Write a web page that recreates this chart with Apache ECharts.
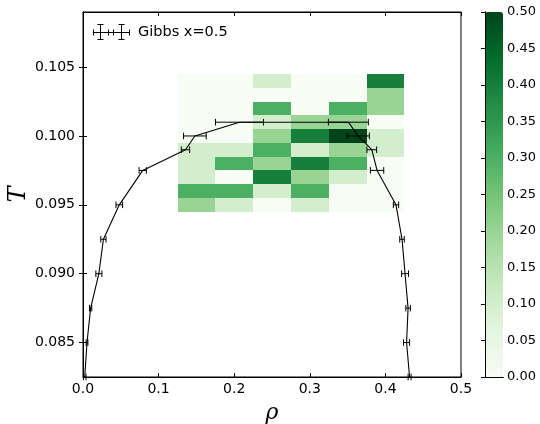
<!DOCTYPE html>
<html><head><meta charset="utf-8">
<script src="https://cdn.jsdelivr.net/npm/echarts@6/dist/echarts.min.js"></script>
<style>html,body{margin:0;padding:0;background:#fff}#c{width:540px;height:424px}</style>
</head><body><div id="c"></div>
<script>
// ---- data ----
const rhoCenters = [0.15, 0.20, 0.25, 0.30, 0.35, 0.40];
const tCenters = [0.095, 0.096, 0.097, 0.098, 0.099, 0.100, 0.101, 0.102, 0.103, 0.104];
// rows follow tCenters (bottom -> top), columns follow rhoCenters
const hist = [
  [0.2, 0.1, 0.0, 0.1, 0.0, 0.0],
  [0.3, 0.3, 0.1, 0.3, 0.0, 0.0],
  [0.1, 0.0, 0.4, 0.2, 0.1, 0.0],
  [0.1, 0.3, 0.2, 0.4, 0.3, 0.0],
  [0.1, 0.1, 0.3, 0.1, 0.2, 0.1],
  [0.0, 0.0, 0.2, 0.4, 0.5, 0.1],
  [0.0, 0.0, 0.1, 0.2, 0.2, 0.0],
  [0.0, 0.0, 0.3, 0.0, 0.3, 0.2],
  [0.0, 0.0, 0.0, 0.0, 0.0, 0.2],
  [0.0, 0.0, 0.1, 0.0, 0.0, 0.4]
];
const RHO_BIN = 0.05, T_BIN = 0.001;
// Gibbs coexistence: left branch (bottom -> top), then right branch (top -> bottom)
const gibbsRho = [0.0023, 0.0053, 0.0101, 0.021, 0.027, 0.048, 0.079, 0.1356, 0.148, 0.207,
                  0.351, 0.364, 0.382, 0.389, 0.414, 0.422, 0.426, 0.430, 0.428, 0.432];
const gibbsT   = [0.0825, 0.085, 0.0875, 0.090, 0.0925, 0.095, 0.0975, 0.099, 0.100, 0.101,
                  0.101, 0.100, 0.099, 0.0975, 0.095, 0.0925, 0.090, 0.0875, 0.085, 0.0825];
const gibbsErr = [0.0017, 0.0012, 0.0015, 0.004, 0.0035, 0.0044, 0.0048, 0.0055, 0.015, 0.0317,
                  0.0264, 0.0148, 0.0064, 0.0088, 0.0035, 0.003, 0.0046, 0.003, 0.004, 0.002];
const xTicks = [0.0, 0.1, 0.2, 0.3, 0.4, 0.5];
const yTicks = [0.085, 0.090, 0.095, 0.100, 0.105];
const cbarTicks = [0, 0.05, 0.10, 0.15, 0.20, 0.25, 0.30, 0.35, 0.40, 0.45, 0.50];
const greens = ['#f7fcf5','#e5f5e0','#c7e9c0','#a1d99b','#74c476','#41ab5d','#238b45','#006d2c','#00441b'];

const heatData = [];
tCenters.forEach((t, i) => rhoCenters.forEach((r, j) => heatData.push([r, t, hist[i][j]])));
const gibbsData = gibbsRho.map((r, i) => [r, gibbsT[i], gibbsErr[i]]);

const FONT = 'DejaVu Sans';
const tickStyle = {show: true, inside: true, length: 4, lineStyle: {color: '#000', width: 1}};
const lineStyle = {show: true, lineStyle: {color: '#000', width: 1}};
const LS = {stroke: '#000', lineWidth: 1};

const chart = echarts.init(document.getElementById('c'), null, {renderer: 'canvas'});
chart.setOption({
  animation: false,
  backgroundColor: '#fff',
  grid: [
    {left: 83, top: 12, width: 378, height: 365, show: true, borderColor: '#000', borderWidth: 1,
     backgroundColor: 'transparent', containLabel: false, outerBoundsMode: 'none'},
    {left: 485, top: 12, width: 18, height: 365, containLabel: false, outerBoundsMode: 'none'}
  ],
  visualMap: {
    type: 'continuous', min: 0, max: 0.5, dimension: 2, seriesIndex: 0,
    inRange: {color: greens}, calculable: false, show: true,
    itemWidth: 18, itemHeight: 365, left: 485, top: 12, padding: 0, text: null,
    showLabel: false, z: 1, hoverLink: false
  },
  xAxis: [
    {gridIndex: 0, type: 'value', min: 0, max: 0.5, interval: 0.1, position: 'bottom',
     axisLine: lineStyle, axisTick: tickStyle, splitLine: {show: false},
     axisLabel: {color: '#000', fontSize: 14, fontFamily: FONT, margin: 5,
                 customValues: xTicks, formatter: v => v.toFixed(1)},
     name: 'ρ', nameLocation: 'middle', nameGap: 25, nameMoveOverlap: false,
     nameTextStyle: {fontFamily: 'DejaVu Serif', fontStyle: 'italic', fontSize: 22, color: '#000'}},
    {gridIndex: 0, type: 'value', min: 0, max: 0.5, interval: 0.1, position: 'top',
     axisLine: lineStyle, axisTick: tickStyle, splitLine: {show: false}, axisLabel: {show: false}},
    {gridIndex: 1, type: 'value', min: 0, max: 1, position: 'bottom', z: 10,
     axisLine: lineStyle, axisTick: {show: false}, splitLine: {show: false}, axisLabel: {show: false}},
    {gridIndex: 1, type: 'value', min: 0, max: 1, position: 'top', z: 10,
     axisLine: lineStyle, axisTick: {show: false}, splitLine: {show: false}, axisLabel: {show: false}}
  ],
  yAxis: [
    {gridIndex: 0, type: 'value', min: 0.0825, max: 0.109, position: 'left',
     axisLine: lineStyle, axisTick: Object.assign({customValues: yTicks}, tickStyle), splitLine: {show: false},
     axisLabel: {color: '#000', fontSize: 14, fontFamily: FONT, margin: 8,
                 customValues: yTicks, formatter: v => v.toFixed(3)},
     name: 'T', nameLocation: 'middle', nameGap: 52, nameMoveOverlap: false,
     nameTextStyle: {fontFamily: 'DejaVu Serif', fontStyle: 'italic', fontSize: 24, color: '#000'}},
    {gridIndex: 0, type: 'value', min: 0.0825, max: 0.109, position: 'right',
     axisLine: lineStyle, axisTick: Object.assign({customValues: yTicks}, tickStyle), splitLine: {show: false},
     axisLabel: {show: false, customValues: yTicks}},
    {gridIndex: 1, type: 'value', min: 0, max: 0.5, interval: 0.05, position: 'right', z: 10,
     axisLine: lineStyle, axisTick: tickStyle, splitLine: {show: false},
     axisLabel: {color: '#000', fontSize: 13, fontFamily: FONT, margin: 4,
                 customValues: cbarTicks, formatter: v => v.toFixed(2)}},
    {gridIndex: 1, type: 'value', min: 0, max: 0.5, position: 'left', z: 10,
     axisLine: lineStyle, axisTick: {show: false}, splitLine: {show: false}, axisLabel: {show: false}}
  ],
  series: [
    {
      type: 'custom', name: 'hist', xAxisIndex: 0, yAxisIndex: 0, data: heatData,
      encode: {x: 0, y: 1}, z: 1,
      renderItem: (params, api) => {
        const x = api.value(0), y = api.value(1);
        const p1 = api.coord([x - RHO_BIN / 2, y + T_BIN / 2]);
        const p2 = api.coord([x + RHO_BIN / 2, y - T_BIN / 2]);
        const x1 = Math.round(p1[0]), y1 = Math.round(p1[1]);
        const x2 = Math.round(p2[0]), y2 = Math.round(p2[1]);
        return {type: 'rect', shape: {x: x1, y: y1, width: x2 - x1, height: y2 - y1},
                style: {fill: api.visual('color')}};
      }
    },
    {
      type: 'line', name: 'Gibbs x=0.5', xAxisIndex: 0, yAxisIndex: 0,
      data: gibbsData.map(d => [d[0], d[1]]), showSymbol: false, symbol: 'none', z: 3,
      lineStyle: {color: '#000', width: 1.1}
    },
    {
      type: 'custom', name: 'Gibbs err', xAxisIndex: 0, yAxisIndex: 0, data: gibbsData,
      encode: {x: 0, y: 1}, z: 4,
      renderItem: (params, api) => {
        const x = api.value(0), y = api.value(1), e = api.value(2);
        const a = api.coord([x - e, y]), b = api.coord([x + e, y]);
        const cap = 3.3;
        return {type: 'group', children: [
          {type: 'line', shape: {x1: a[0], y1: a[1], x2: b[0], y2: b[1]}, style: LS},
          {type: 'line', shape: {x1: a[0], y1: a[1] - cap, x2: a[0], y2: a[1] + cap}, style: LS},
          {type: 'line', shape: {x1: b[0], y1: b[1] - cap, x2: b[0], y2: b[1] + cap}, style: LS}
        ]};
      }
    }
  ],
  graphic: [
    {type: 'line', z: 20, shape: {x1: 93, y1: 32.5, x2: 130, y2: 32.5}, style: LS},
    {type: 'line', z: 20, shape: {x1: 93.5, y1: 29.5, x2: 93.5, y2: 35.5}, style: LS},
    {type: 'line', z: 20, shape: {x1: 108.5, y1: 29.5, x2: 108.5, y2: 35.5}, style: LS},
    {type: 'line', z: 20, shape: {x1: 113.5, y1: 29.5, x2: 113.5, y2: 35.5}, style: LS},
    {type: 'line', z: 20, shape: {x1: 129.5, y1: 29.5, x2: 129.5, y2: 35.5}, style: LS},
    {type: 'line', z: 20, shape: {x1: 100.5, y1: 24.5, x2: 100.5, y2: 39.5}, style: LS},
    {type: 'line', z: 20, shape: {x1: 97.5, y1: 24.5, x2: 103.5, y2: 24.5}, style: LS},
    {type: 'line', z: 20, shape: {x1: 97.5, y1: 39.5, x2: 103.5, y2: 39.5}, style: LS},
    {type: 'line', z: 20, shape: {x1: 121.5, y1: 24.5, x2: 121.5, y2: 39.5}, style: LS},
    {type: 'line', z: 20, shape: {x1: 118.5, y1: 24.5, x2: 124.5, y2: 24.5}, style: LS},
    {type: 'line', z: 20, shape: {x1: 118.5, y1: 39.5, x2: 124.5, y2: 39.5}, style: LS},
    {type: 'text', z: 20, x: 138, y: 32, style: {text: 'Gibbs x=0.5', fill: '#000', fontSize: 14.5,
      fontFamily: FONT, verticalAlign: 'middle', align: 'left'}}
  ]
});
</script></body></html>
